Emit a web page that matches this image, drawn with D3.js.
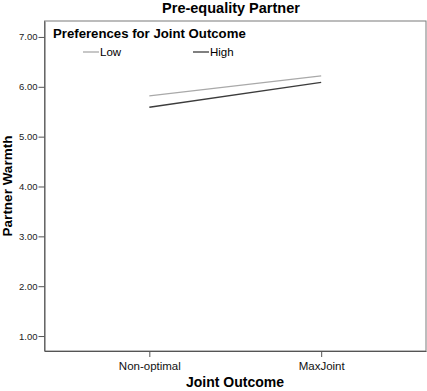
<!DOCTYPE html>
<html>
<head>
<meta charset="utf-8">
<script src="https://d3js.org/d3.v7.min.js"></script>
<style>
body { margin: 0; background: #fff; }
svg { display: block; font-family: "Liberation Sans", Arial, sans-serif; }
</style>
</head>
<body>
<svg width="427" height="391"></svg>
<script>

var categories = ["Non-optimal", "MaxJoint"];
var seriesNames = ["Low", "High"];
var lowValues = [5.82, 6.22];
var highValues = [5.59, 6.09];
var yTicks = [1, 2, 3, 4, 5, 6, 7];

var svg = d3.select("svg");

var plotLeft = 44.5, plotRight = 426, plotTop = 21, plotBottom = 351;

var x = d3.scalePoint()
	.domain(categories)
	.range([plotLeft, plotRight])
	.padding(0.61);

var y = d3.scaleLinear()
	.domain([0.7, 7.32])
	.range([plotBottom, plotTop]);

var series = [
	{ name: seriesNames[0], values: lowValues, color: "#a9a9a9" },
	{ name: seriesNames[1], values: highValues, color: "#3c3c3c" }
];

// frame
svg.append("rect")
	.attr("x", plotLeft)
	.attr("y", plotTop)
	.attr("width", plotRight - plotLeft)
	.attr("height", plotBottom - plotTop)
	.attr("fill", "none")
	.attr("stroke", "#7a7a7a")
	.attr("stroke-width", 1);

// y axis
var yAxis = svg.append("g")
	.attr("transform", "translate(" + plotLeft + ",0)")
	.call(d3.axisLeft(y).tickValues(yTicks).tickFormat(d3.format(".2f")).tickSize(6).tickPadding(1).tickSizeOuter(0));
yAxis.select(".domain").attr("stroke", "#555");
yAxis.selectAll(".tick line").attr("stroke", "#555");
yAxis.selectAll(".tick text")
	.attr("font-family", "Liberation Sans, Arial, sans-serif")
	.attr("font-size", "9.5px")
	.attr("fill", "#222");

// x axis
var xAxis = svg.append("g")
	.attr("transform", "translate(0," + plotBottom + ")")
	.call(d3.axisBottom(x).tickSize(6).tickPadding(5).tickSizeOuter(0));
xAxis.select(".domain").attr("stroke", "#555");
xAxis.selectAll(".tick line").attr("stroke", "#555");
xAxis.selectAll(".tick text")
	.attr("font-family", "Liberation Sans, Arial, sans-serif")
	.attr("font-size", "11.5px")
	.attr("fill", "#111");

// lines
var line = d3.line()
	.x(function(d, i) { return x(categories[i]); })
	.y(function(d) { return y(d); });

svg.append("g")
	.selectAll("path")
	.data(series)
	.enter().append("path")
	.attr("d", function(d) { return line(d.values); })
	.attr("fill", "none")
	.attr("stroke", function(d) { return d.color; })
	.attr("stroke-width", 1.3);

// titles
svg.append("text")
	.attr("x", 231)
	.attr("y", 13)
	.attr("text-anchor", "middle")
	.attr("font-size", "14.5px")
	.attr("font-weight", "bold")
	.text("Pre-equality Partner");

svg.append("text")
	.attr("x", 235)
	.attr("y", 387)
	.attr("text-anchor", "middle")
	.attr("font-size", "14px")
	.attr("font-weight", "bold")
	.text("Joint Outcome");

svg.append("text")
	.attr("transform", "translate(12,186) rotate(-90)")
	.attr("text-anchor", "middle")
	.attr("font-size", "13.5px")
	.attr("font-weight", "bold")
	.text("Partner Warmth");

// legend
svg.append("text")
	.attr("x", 53)
	.attr("y", 38)
	.attr("font-size", "13.2px")
	.attr("font-weight", "bold")
	.text("Preferences for Joint Outcome");

var legend = svg.append("g")
	.selectAll("g")
	.data(series)
	.enter().append("g")
	.attr("transform", function(d, i) { return "translate(" + (i === 0 ? 83 : 193) + ",52)"; });

legend.append("line")
	.attr("x1", 0)
	.attr("x2", 16)
	.attr("stroke", function(d) { return d.color; })
	.attr("stroke-width", 1.3);

legend.append("text")
	.attr("x", 17)
	.attr("y", 4)
	.attr("font-size", "11.5px")
	.text(function(d) { return d.name; });

</script>
</body>
</html>
